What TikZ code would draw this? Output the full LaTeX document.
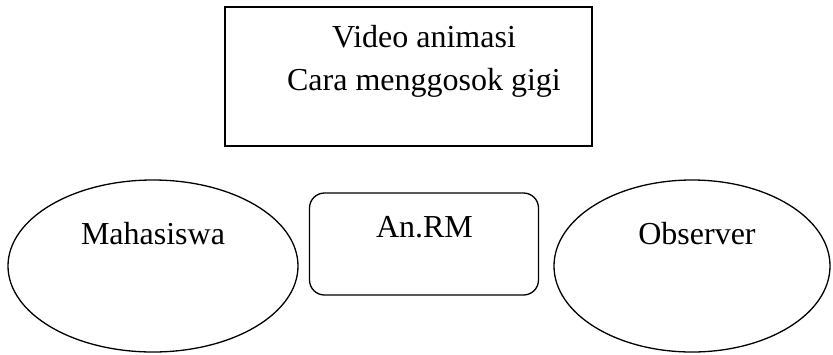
\documentclass[tikz,border=0pt]{standalone}
\usepackage{fontspec}
\setmainfont{Liberation Serif}
\usetikzlibrary{shapes.geometric}
\begin{document}
\begin{tikzpicture}[x=1pt,y=-1pt,
  shapeline/.style={draw=black,line width=1.3pt,inner sep=0pt},
  lbl/.style={anchor=base,inner sep=0pt,font=\fontsize{32}{43}\selectfont}]
\useasboundingbox (0,0) rectangle (833,354);
\node[shapeline,rectangle,minimum width=367pt,minimum height=139pt] (video) at (408.5,76.5) {};
\node[shapeline,rectangle,rounded corners=15pt,minimum width=229pt,minimum height=102pt] (anrm) at (424,244) {};
\node[shapeline,ellipse,minimum width=290pt,minimum height=172pt] (mhs) at (153,266) {};
\node[shapeline,ellipse,minimum width=276pt,minimum height=172pt] (obs) at (692,266) {};
\node[lbl] (t1) at (424,47) {Video animasi};
\node[lbl] (t2) at (424,90) {Cara menggosok gigi};
\node[lbl] (t3) at (424.5,237) {An.RM};
\node[lbl] (t4) at (153,244) {Mahasiswa};
\node[lbl] (t5) at (697,244) {Observer};
\end{tikzpicture}
\end{document}
